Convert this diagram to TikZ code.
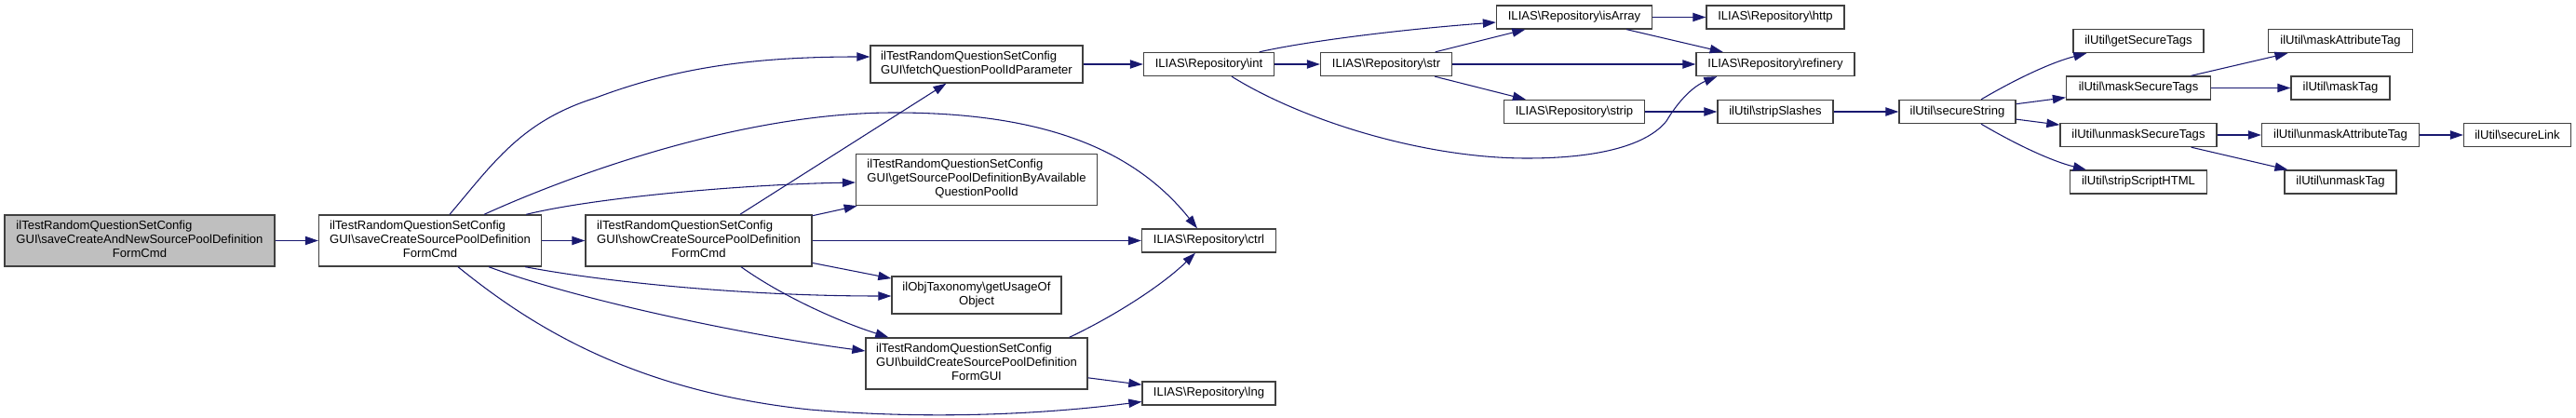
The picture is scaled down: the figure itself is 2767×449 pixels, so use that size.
\documentclass[tikz,border=0pt]{standalone}
\usepackage{fontspec}
\setmainfont{Liberation Sans}
\usetikzlibrary{arrows.meta,calc}
\definecolor{edgecol}{HTML}{191970}
\definecolor{bordercol}{HTML}{404040}
\definecolor{startfill}{HTML}{BFBFBF}
\newcommand{\bsl}{\textbackslash}
\newcommand{\ThreeL}[3]{\begin{tabular}{@{}l@{}}#1\\#2\\\multicolumn{1}{@{}c@{}}{#3}\end{tabular}}
\newcommand{\TwoL}[2]{\begin{tabular}{@{}l@{}}#1\\\multicolumn{1}{@{}c@{}}{#2}\end{tabular}}
\tikzset{
  box/.style={draw=bordercol, line width=1pt, fill=white, inner sep=0pt,
    font=\fontsize{9.8}{11.25}\selectfont},
  sz/.style 2 args={minimum width=#1*0.75pt, minimum height=#2*0.75pt},
  conn/.style={draw=edgecol, line width=0.8pt, -{Triangle[length=10.5pt,width=7pt]}}
}
\begin{document}
\begin{tikzpicture}[x=0.75pt,y=-0.75pt]
\useasboundingbox (0,0) rectangle (2767,449);

% nodes
\node[box, fill=startfill, sz={290}{55}] (start) at (150,258.5)
  {\ThreeL{ilTestRandomQuestionSetConfig}{GUI\bsl saveCreateAndNewSourcePoolDefinition}{FormCmd}};
\node[box, sz={239}{55}] (saveCreate) at (462,258.5)
  {\ThreeL{ilTestRandomQuestionSetConfig}{GUI\bsl saveCreateSourcePoolDefinition}{FormCmd}};
\node[box, sz={243}{55}] (showCreate) at (750.5,258.5)
  {\ThreeL{ilTestRandomQuestionSetConfig}{GUI\bsl showCreateSourcePoolDefinition}{FormCmd}};
\node[box, sz={228}{40}] (fetch) at (1049,69)
  {\TwoL{ilTestRandomQuestionSetConfig}{GUI\bsl fetchQuestionPoolIdParameter}};
\node[box, sz={259}{55}] (getSource) at (1049,193)
  {\ThreeL{ilTestRandomQuestionSetConfig}{GUI\bsl getSourcePoolDefinitionByAvailable}{QuestionPoolId}};
\node[box, sz={182}{40}] (getUsage) at (1049,317)
  {\TwoL{ilObjTaxonomy\bsl getUsageOf}{Object}};
\node[box, sz={238}{55}] (build) at (1049,390.5)
  {\ThreeL{ilTestRandomQuestionSetConfig}{GUI\bsl buildCreateSourcePoolDefinition}{FormGUI}};
\node[box, sz={140}{25}] (int) at (1298.5,69) {ILIAS\bsl Repository\bsl int};
\node[box, sz={144}{25}] (ctrl) at (1298.5,258.5) {ILIAS\bsl Repository\bsl ctrl};
\node[box, sz={143}{25}] (lng) at (1298.5,422.5) {ILIAS\bsl Repository\bsl lng};
\node[box, sz={141}{25}] (str) at (1489,69) {ILIAS\bsl Repository\bsl str};
\node[box, sz={167}{25}] (isArray) at (1691,18.5) {ILIAS\bsl Repository\bsl isArray};
\node[box, sz={151}{25}] (strip) at (1691,120) {ILIAS\bsl Repository\bsl strip};
\node[box, sz={148}{25}] (http) at (1907,18.5) {ILIAS\bsl Repository\bsl http};
\node[box, sz={170}{25}] (refinery) at (1907,69) {ILIAS\bsl Repository\bsl refinery};
\node[box, sz={124}{25}] (stripSlashes) at (1907,120) {ilUtil\bsl stripSlashes};
\node[box, sz={125}{25}] (secureString) at (2102.5,120) {ilUtil\bsl secureString};
\node[box, sz={140}{25}] (getSecureTags) at (2297,44) {ilUtil\bsl getSecureTags};
\node[box, sz={155}{25}] (maskSecureTags) at (2297,94.5) {ilUtil\bsl maskSecureTags};
\node[box, sz={168}{25}] (unmaskSecureTags) at (2297,145) {ilUtil\bsl unmaskSecureTags};
\node[box, sz={147}{25}] (stripScriptHTML) at (2297,195.5) {ilUtil\bsl stripScriptHTML};
\node[box, sz={155}{25}] (maskAttributeTag) at (2514,44) {ilUtil\bsl maskAttributeTag};
\node[box, sz={106}{25}] (maskTag) at (2514,94.5) {ilUtil\bsl maskTag};
\node[box, sz={169}{25}] (unmaskAttributeTag) at (2514,145) {ilUtil\bsl unmaskAttributeTag};
\node[box, sz={120}{25}] (unmaskTag) at (2514,195.5) {ilUtil\bsl unmaskTag};
\node[box, sz={115}{25}] (secureLink) at (2704,145) {ilUtil\bsl secureLink};

% straight edges
\draw[conn] (start) -- (saveCreate);
\draw[conn] (saveCreate) -- (showCreate);
\draw[conn] (showCreate) -- (fetch);
\draw[conn] (showCreate) -- (getSource);
\draw[conn] (showCreate) -- (ctrl);
\draw[conn] (showCreate) -- (getUsage);
\draw[conn] (build) -- (lng);
\draw[conn] (fetch) -- (int);
\draw[conn] (int) -- (str);
\draw[conn] (str) -- (isArray);
\draw[conn] (str) -- (refinery);
\draw[conn] (str) -- (strip);
\draw[conn] (isArray) -- (http);
\draw[conn] (isArray) -- (refinery);
\draw[conn] (strip) -- (stripSlashes);
\draw[conn] (stripSlashes) -- (secureString);
\draw[conn] (secureString) -- (maskSecureTags);
\draw[conn] (secureString) -- (unmaskSecureTags);
\draw[conn] (maskSecureTags) -- (maskAttributeTag);
\draw[conn] (maskSecureTags) -- (maskTag);
\draw[conn] (unmaskSecureTags) -- (unmaskAttributeTag);
\draw[conn] (unmaskSecureTags) -- (unmaskTag);
\draw[conn] (unmaskAttributeTag) -- (secureLink);

% curved edges
\draw[conn] ($(saveCreate.north)+(21,0)$) .. controls (530,175) and (560,130) .. (640,105)
  .. controls (720,75) and (800,61) .. ($(fetch.west)+(0,-8)$);
\draw[conn] ($(saveCreate.north)+(58,0)$) .. controls (620,185) and (800,121) .. (960,121)
  .. controls (1100,121) and (1210,150) .. ($(ctrl.north)+(-12.5,0)$);
\draw[conn] ($(saveCreate.north east)+(-17,0)$) .. controls (640,212) and (800,198) .. ($(getSource.west)+(0,3)$);
\draw[conn] ($(saveCreate.south east)+(-18,0)$) .. controls (650,303) and (800,318) .. ($(getUsage.west)+(0,1)$);
\draw[conn] ($(saveCreate.south)+(63,0)$) .. controls (620,322) and (800,360) .. ($(build.west)+(0,-13.5)$);
\draw[conn] ($(saveCreate.south)+(30,0)$) .. controls (570,350) and (680,420) .. (870,440)
  .. controls (1000,451) and (1120,445) .. ($(lng.west)+(0,9)$);
\draw[conn] ($(showCreate.south)+(45.5,0)$) .. controls (840,318) and (900,345) .. ($(build.north west)+(25,0)$);
\draw[conn] ($(build.north east)+(-20,0)$) .. controls (1200,338) and (1250,305) .. ($(ctrl.south)+(-14.5,0)$);
\draw[conn] ($(int.north east)+(-16.5,0)$) .. controls (1400,45) and (1500,32) .. ($(isArray.west)+(0,5.5)$);
\draw[conn] ($(int.south)+(24.5,0)$) .. controls (1400,130) and (1530,170) .. (1640,170)
  .. controls (1720,170) and (1770,155) .. (1790,130)
  .. controls (1808,100) and (1825,90) .. ($(refinery.south west)+(23,0)$);
\draw[conn] ($(secureString.north)+(25.5,0)$) .. controls (2160,88) and (2200,68) .. ($(getSecureTags.south west)+(15,0)$);
\draw[conn] ($(secureString.south)+(25.5,0)$) .. controls (2160,152) and (2200,172) .. ($(stripScriptHTML.north west)+(18,0)$);
\end{tikzpicture}
\end{document}
